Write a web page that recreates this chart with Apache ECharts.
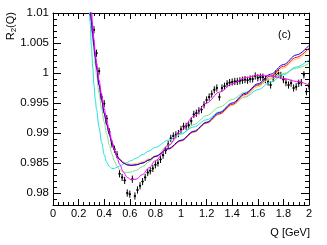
<!DOCTYPE html>
<html><head><meta charset="utf-8">
<script src="https://cdn.jsdelivr.net/npm/echarts@6/dist/echarts.min.js"></script>
<style>html,body{margin:0;padding:0;background:#fff}#c{width:327px;height:245px}</style>
</head><body><div id="c"></div>
<script>
// measured data points
const dataQ = [0.32,0.34,0.36,0.38,0.40,0.42,0.44,0.46,0.48,0.50,0.52,0.54,0.56,0.58,0.60,0.62,0.64,0.66,0.68,0.70,0.72,0.74,0.76,0.78,0.80,0.82,0.84,0.86,0.88,0.90,0.92,0.94,0.96,0.98,1.00,1.02,1.04,1.06,1.08,1.10,1.12,1.14,1.16,1.18,1.20,1.22,1.24,1.26,1.28,1.30,1.32,1.34,1.36,1.38,1.40,1.42,1.44,1.46,1.48,1.50,1.52,1.54,1.56,1.58,1.60,1.62,1.64,1.66,1.68,1.70,1.72,1.74,1.76,1.78,1.80,1.82,1.84,1.86,1.88,1.90,1.92,1.94,1.96,1.98,2.00];
const dataR = [1.0072,1.0033,1.0003,0.9960,0.9949,0.9924,0.9902,0.9882,0.9873,0.9864,0.9832,0.9826,0.9821,0.9800,0.9798,0.9823,0.9795,0.9805,0.9812,0.9819,0.9826,0.9834,0.9837,0.9841,0.9847,0.9850,0.9856,0.9863,0.9871,0.9881,0.9891,0.9895,0.9897,0.9899,0.9906,0.9911,0.9911,0.9913,0.9920,0.9931,0.9933,0.9937,0.9939,0.9947,0.9955,0.9960,0.9965,0.9972,0.9975,0.9960,0.9975,0.9978,0.9982,0.9984,0.9985,0.9986,0.9986,0.9987,0.9988,0.9989,0.9988,0.9990,0.9990,0.9995,0.9992,0.9993,0.9993,0.9989,0.9985,0.9980,0.9991,0.9998,1.0000,0.9996,0.9989,0.9984,0.9980,0.9983,0.9975,0.9977,0.9983,0.9984,0.9997,0.9969,0.9978];
const errR = 0.0006;
const errQ = 0.008;

// fitted curves sampled at these Q values
const curveQ = [0.27,0.28,0.29,0.30,0.31,0.32,0.33,0.34,0.36,0.38,0.40,0.42,0.44,0.46,0.48,0.50,0.52,0.55,0.58,0.61,0.65,0.70,0.75,0.80,0.90,1.0,1.1,1.2,1.3,1.4,1.5,1.6,1.7,1.8,1.9,2.0];
const curveCyan = [1.0165,1.0123,1.0085,1.0046,1.0010,0.9980,0.9957,0.9939,0.9909,0.9884,0.9864,0.9851,0.9844,0.9841,0.9841,0.9843,0.9845,0.9848,0.9851,0.9854,0.9858,0.9864,0.9870,0.9876,0.9888,0.9899,0.9910,0.9922,0.9935,0.9947,0.9960,0.9972,0.9985,0.9997,1.0010,1.0022];
const curveGreen = [1.0180,1.0143,1.0110,1.0082,1.0057,1.0035,1.0015,0.9997,0.9966,0.9940,0.9918,0.9898,0.9880,0.9865,0.9853,0.9845,0.9839,0.9835,0.9834,0.9835,0.9838,0.9844,0.9852,0.9861,0.9880,0.9898,0.9914,0.9929,0.9943,0.9956,0.9968,0.9979,0.9990,0.9999,1.0008,1.0016];
const curveOrange = [1.0168,1.0138,1.0110,1.0086,1.0064,1.0044,1.0026,1.0009,0.9979,0.9954,0.9932,0.9914,0.9898,0.9884,0.9872,0.9863,0.9857,0.9852,0.9849,0.9848,0.9849,0.9852,0.9857,0.9862,0.9874,0.9887,0.9901,0.9916,0.9931,0.9946,0.9961,0.9977,0.9992,1.0008,1.0023,1.0039];
const curveRed = [1.0170,1.0140,1.0112,1.0087,1.0065,1.0045,1.0027,1.0010,0.9980,0.9955,0.9933,0.9914,0.9898,0.9883,0.9871,0.9862,0.9856,0.9850,0.9847,0.9846,0.9847,0.9850,0.9855,0.9861,0.9873,0.9887,0.9902,0.9917,0.9932,0.9948,0.9964,0.9980,0.9995,1.0011,1.0026,1.0042];
const curveBlue = [1.0172,1.0141,1.0113,1.0087,1.0065,1.0045,1.0027,1.0010,0.9980,0.9955,0.9933,0.9914,0.9898,0.9883,0.9871,0.9862,0.9856,0.9850,0.9847,0.9846,0.9847,0.9850,0.9855,0.9861,0.9874,0.9888,0.9903,0.9918,0.9934,0.9950,0.9966,0.9982,0.9998,1.0014,1.0030,1.0046];
const curveMagenta = [1.0215,1.0175,1.0140,1.0108,1.0080,1.0056,1.0035,1.0017,0.9988,0.9963,0.9941,0.9921,0.9903,0.9887,0.9872,0.9859,0.9848,0.9835,0.9826,0.9822,0.9823,0.9831,0.9842,0.9854,0.9879,0.9904,0.9928,0.9950,0.9968,0.9982,0.9992,0.9996,0.9995,0.9991,0.9986,0.9980];

const xTicks = [0,0.2,0.4,0.6,0.8,1,1.2,1.4,1.6,1.8,2];
const yTicks = [0.98,0.985,0.99,0.995,1,1.005,1.01];
const yMinorTicks = [];
for (let i = 978; i <= 1010; i++) yMinorTicks.push(i/1000);

const FONT = 'Liberation Sans';
const chart = echarts.init(document.getElementById('c'), null, {renderer:'canvas'});
const pairs = (xs, ys) => xs.map((x,i)=>[x, ys[i]]);
const lineSeries = (ys, color) => ({
  type:'line', data: pairs(curveQ, ys), showSymbol:false, smooth:0.35, smoothMonotone:'x',
  lineStyle:{color, width:1}, clip:true, silent:true, z:3
});
const yAxisBase = {type:'value', min:0.978, max:1.01, splitLine:{show:false}};
const axLine = {show:true, lineStyle:{color:'#000', width:1}};

chart.setOption({
  animation:false,
  grid:{left:53, right:18, top:13, bottom:40},
  xAxis:[
    {type:'value', min:0, max:2, interval:0.2, position:'bottom', axisLine:axLine,
     axisTick:{show:true, inside:true, length:6, lineStyle:{color:'#000'}},
     minorTick:{show:true, splitNumber:5, length:3, lineStyle:{color:'#000'}},
     splitLine:{show:false},
     axisLabel:{color:'#000', fontFamily:FONT, fontSize:11, margin:3, formatter:v=>String(+v.toFixed(1))}},
    {type:'value', min:0, max:2, interval:0.2, position:'top', axisLine:axLine,
     axisTick:{show:true, inside:true, length:6, lineStyle:{color:'#000'}},
     minorTick:{show:true, splitNumber:5, length:3, lineStyle:{color:'#000'}},
     splitLine:{show:false}, axisLabel:{show:false}}
  ],
  yAxis:[
    Object.assign({}, yAxisBase, {position:'left', axisLine:axLine,
      axisTick:{show:true, inside:true, length:8, customValues:yTicks, lineStyle:{color:'#000'}},
      axisLabel:{show:true, customValues:yTicks, color:'#000', fontFamily:FONT, fontSize:11.5, margin:4,
        formatter:v=>String(+(+v).toFixed(3))}}),
    Object.assign({}, yAxisBase, {position:'left', axisLine:{show:false},
      axisTick:{show:true, inside:true, length:4, customValues:yMinorTicks, lineStyle:{color:'#000'}},
      axisLabel:{show:false}}),
    Object.assign({}, yAxisBase, {position:'right', axisLine:axLine,
      axisTick:{show:true, inside:true, length:8, customValues:yTicks, lineStyle:{color:'#000'}},
      axisLabel:{show:false}}),
    Object.assign({}, yAxisBase, {position:'right', axisLine:{show:false},
      axisTick:{show:true, inside:true, length:4, customValues:yMinorTicks, lineStyle:{color:'#000'}},
      axisLabel:{show:false}})
  ],
  series:[
    {type:'custom', clip:true, z:2, silent:true,
     data: dataQ.map((q,i)=>[q, dataR[i], errR, errQ]),
     renderItem:(params, api)=>{
       const x=api.value(0), y=api.value(1), ey=api.value(2), ex=api.value(3);
       const c=api.coord([x,y]), t=api.coord([x,y+ey]), b=api.coord([x,y-ey]);
       const l=api.coord([x-ex,y]), r=api.coord([x+ex,y]);
       return {type:'group', children:[
         {type:'line', shape:{x1:c[0],y1:t[1],x2:c[0],y2:b[1]}, style:{stroke:'#000', lineWidth:1}},
         {type:'line', shape:{x1:l[0],y1:c[1],x2:r[0],y2:c[1]}, style:{stroke:'#000', lineWidth:1}},
         {type:'circle', shape:{cx:c[0],cy:c[1],r:1.1}, style:{fill:'#000'}}
       ]};
     }},
    lineSeries(curveGreen, '#80e080'),
    lineSeries(curveCyan, '#22dddd'),
    lineSeries(curveOrange, '#ffc060'),
    lineSeries(curveRed, '#ff0000'),
    lineSeries(curveBlue, '#0000ff'),
    lineSeries(curveMagenta, '#ff00ff')
  ],
  graphic:[
    {type:'text', x:11, y:12, rotation:Math.PI/2,
     style:{text:'R{s|2}(Q)', align:'right', verticalAlign:'middle', fill:'#000', fontFamily:FONT, fontSize:11,
       rich:{s:{fontSize:8, fontFamily:FONT, fill:'#000', padding:[5,0,0,0]}}}},
    {type:'text', x:278, y:29, style:{text:'(c)', fill:'#000', fontFamily:FONT, fontSize:11}},
    {type:'text', x:310, y:227, style:{text:'Q [GeV]', align:'right', fill:'#000', fontFamily:FONT, fontSize:11}}
  ]
});
</script></body></html>
